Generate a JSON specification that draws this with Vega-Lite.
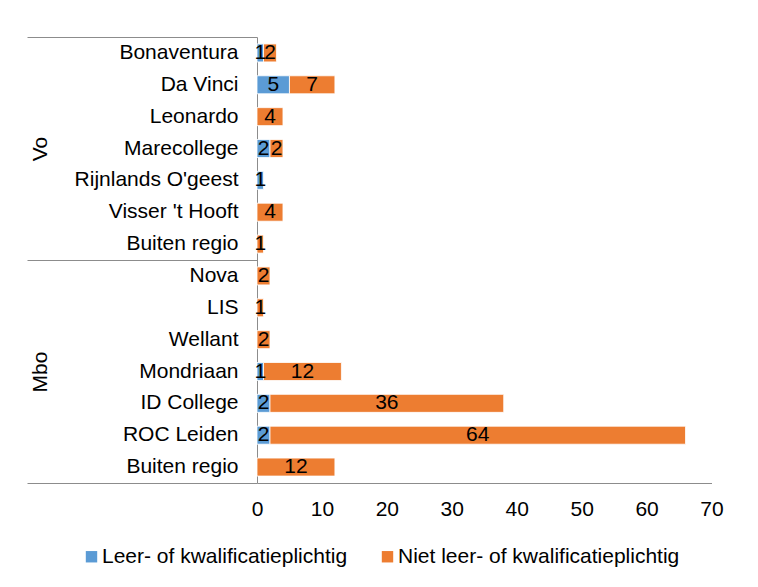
{
  "$schema": "https://vega.github.io/schema/vega-lite/v6.json",
  "width": 454.5,
  "height": 446,
  "autosize": {"type": "none"},
  "padding": {"left": 257, "top": 37, "right": 46.5, "bottom": 104},
  "config": {"font": "Liberation Sans", "view": {"stroke": null}, "axis": {"grid": false}},
  "data": {"values": [
    {"group": "Vo", "key": "Vo|Bonaventura", "type": "Leer- of kwalificatieplichtig", "value": 1},
    {"group": "Vo", "key": "Vo|Bonaventura", "type": "Niet leer- of kwalificatieplichtig", "value": 2},
    {"group": "Vo", "key": "Vo|Da Vinci", "type": "Leer- of kwalificatieplichtig", "value": 5},
    {"group": "Vo", "key": "Vo|Da Vinci", "type": "Niet leer- of kwalificatieplichtig", "value": 7},
    {"group": "Vo", "key": "Vo|Leonardo", "type": "Niet leer- of kwalificatieplichtig", "value": 4},
    {"group": "Vo", "key": "Vo|Marecollege", "type": "Leer- of kwalificatieplichtig", "value": 2},
    {"group": "Vo", "key": "Vo|Marecollege", "type": "Niet leer- of kwalificatieplichtig", "value": 2},
    {"group": "Vo", "key": "Vo|Rijnlands O'geest", "type": "Leer- of kwalificatieplichtig", "value": 1},
    {"group": "Vo", "key": "Vo|Visser 't Hooft", "type": "Niet leer- of kwalificatieplichtig", "value": 4},
    {"group": "Vo", "key": "Vo|Buiten regio", "type": "Niet leer- of kwalificatieplichtig", "value": 1},
    {"group": "Mbo", "key": "Mbo|Nova", "type": "Niet leer- of kwalificatieplichtig", "value": 2},
    {"group": "Mbo", "key": "Mbo|LIS", "type": "Niet leer- of kwalificatieplichtig", "value": 1},
    {"group": "Mbo", "key": "Mbo|Wellant", "type": "Niet leer- of kwalificatieplichtig", "value": 2},
    {"group": "Mbo", "key": "Mbo|Mondriaan", "type": "Leer- of kwalificatieplichtig", "value": 1},
    {"group": "Mbo", "key": "Mbo|Mondriaan", "type": "Niet leer- of kwalificatieplichtig", "value": 12},
    {"group": "Mbo", "key": "Mbo|ID College", "type": "Leer- of kwalificatieplichtig", "value": 2},
    {"group": "Mbo", "key": "Mbo|ID College", "type": "Niet leer- of kwalificatieplichtig", "value": 36},
    {"group": "Mbo", "key": "Mbo|ROC Leiden", "type": "Leer- of kwalificatieplichtig", "value": 2},
    {"group": "Mbo", "key": "Mbo|ROC Leiden", "type": "Niet leer- of kwalificatieplichtig", "value": 64},
    {"group": "Mbo", "key": "Mbo|Buiten regio", "type": "Niet leer- of kwalificatieplichtig", "value": 12}
  ]},
  "layer": [
    {
      "layer": [
        {
          "mark": {"type": "bar", "stroke": "#ffffff", "strokeWidth": 0.8},
          "encoding": {
            "y": {
              "field": "key", "type": "nominal",
              "scale": {
                "domain": ["Vo|Bonaventura", "Vo|Da Vinci", "Vo|Leonardo", "Vo|Marecollege", "Vo|Rijnlands O'geest", "Vo|Visser 't Hooft", "Vo|Buiten regio", "Mbo|Nova", "Mbo|LIS", "Mbo|Wellant", "Mbo|Mondriaan", "Mbo|ID College", "Mbo|ROC Leiden", "Mbo|Buiten regio"],
                "paddingInner": 0.435, "paddingOuter": 0.2175
              },
              "axis": {"title": null, "labelExpr": "split(datum.label, '|')[1]", "labelFontSize": 21, "labelColor": "#000000", "labelPadding": 19, "ticks": false, "tickSize": 0, "domainColor": "#8c8c8c", "labelLimit": 300}
            },
            "x": {
              "field": "value", "type": "quantitative", "stack": "zero",
              "scale": {"domain": [0, 70], "nice": false},
              "axis": {"title": null, "values": [0, 10, 20, 30, 40, 50, 60, 70], "ticks": false, "labelFlush": false, "labelFontSize": 21, "labelColor": "#000000", "labelPadding": 15, "domainColor": "#8c8c8c", "grid": false}
            },
            "color": {
              "field": "type", "type": "nominal",
              "scale": {"domain": ["Leer- of kwalificatieplichtig", "Niet leer- of kwalificatieplichtig"], "range": ["#5B9BD5", "#ED7D31"]},
              "legend": {"title": null, "orient": "none", "legendX": -176, "legendY": 509, "direction": "horizontal", "symbolType": "square", "symbolSize": 130, "symbolStrokeWidth": 0, "labelFontSize": 21, "labelLimit": 400, "columnPadding": 29, "labelOffset": 0, "padding": 0, "labelColor": "#000000"}
            },
            "order": {"field": "type", "sort": "ascending"}
          }
        },
        {
          "transform": [
            {"stack": "value", "groupby": ["key"], "sort": [{"field": "type", "order": "ascending"}], "as": ["x0", "x1"]},
            {"calculate": "(datum.x0 + datum.x1) / 2", "as": "mid"}
          ],
          "mark": {"type": "text", "fontSize": 21, "color": "#000000"},
          "encoding": {
            "y": {"field": "key", "type": "nominal"},
            "x": {"field": "mid", "type": "quantitative"},
            "text": {"field": "value", "type": "quantitative"}
          }
        }
      ]
    },
    {
      "mark": {"type": "point", "opacity": 0},
      "encoding": {
        "y": {
          "field": "group", "type": "nominal",
          "scale": {"domain": ["Vo", "Mbo"], "paddingInner": 0, "paddingOuter": 0},
          "axis": {"orient": "left", "title": null, "tickBand": "extent", "tickSize": 230, "tickColor": "#8c8c8c", "domain": false, "labelAngle": -90, "labelFontSize": 21, "labelPadding": -23, "labelColor": "#000000"}
        }
      }
    }
  ],
  "resolve": {"scale": {"y": "independent"}, "axis": {"y": "independent"}}
}
